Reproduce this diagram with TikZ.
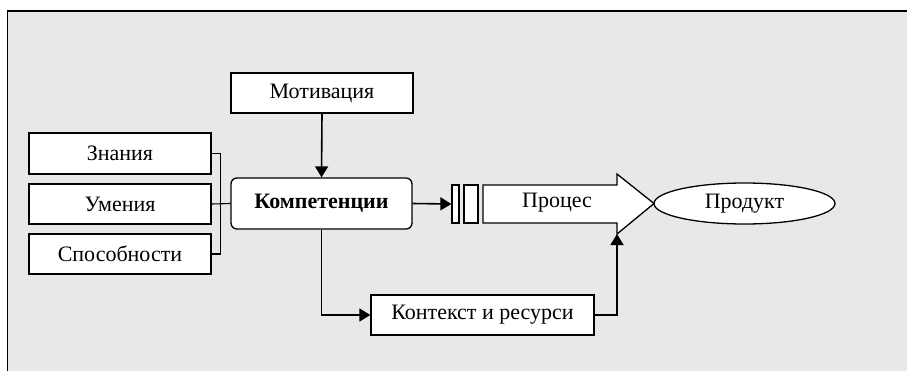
\documentclass[tikz,border=0pt]{standalone}
\usepackage{fontspec}
\setmainfont{Liberation Serif}
\usetikzlibrary{arrows.meta,shapes.geometric}
\definecolor{bgc}{HTML}{E8E8E8}
\begin{document}
\begin{tikzpicture}[x=1pt,y=-1pt,
  box/.style={draw=black,fill=white,line width=1.3pt,minimum width=182pt,minimum height=40pt,inner sep=0pt,font=\fontsize{22}{26}\selectfont},
  conn/.style={line width=1.6pt,-{Triangle[width=13pt,length=11pt]}},
  thin/.style={line width=1.1pt}]
\useasboundingbox (0,0) rectangle (907,370);
\fill[bgc] (7.5,11) rectangle (910,375);
\draw[line width=1.8pt] (7.5,375) -- (7.5,11) -- (910,11);
\node[box] (mot) at (322,93) {Мотивация};
\node[box,minimum height=41pt] (zn) at (120,153.5) {Знания};
\node[box] (um) at (120,204) {Умения};
\node[box] (sp) at (120,254) {Способности};
\node[box,rounded corners=6pt,minimum width=181pt,minimum height=51pt,font=\fontsize{22}{26}\selectfont\bfseries] (komp) at (321.5,203.5) {Компетенции};
\node[box,minimum width=7pt,minimum height=38pt] (r1) at (455.5,204) {};
\node[box,minimum width=14pt,minimum height=38pt] (r2) at (471,204) {};
\draw[line width=1.3pt,fill=white] (483,185) -- (617,185) -- (617,174) -- (654,203.5) -- (617,234) -- (617,223) -- (483,223) -- cycle;
\coordinate (headlow) at (617,234);
\node[font=\fontsize{22}{26}\selectfont] (proc) at (557,203) {Процес};
\node[box,ellipse,minimum width=181pt,minimum height=41pt] (prod) at (744.5,203.5) {Продукт};
\node[box,minimum width=223pt] (ctx) at (482.5,315) {Контекст и ресурси};
\draw[thin] (zn.east) -- ++(9,0) |- (sp.east);
\draw[thin] (um.east) -- (komp.west);
\draw[conn] (mot.south) -- (komp.north);
\draw[conn] (komp.east) -- (r1.west);
\draw[conn] (komp.south) |- (ctx.west);
\draw[conn] (ctx.east) -| (headlow);
\end{tikzpicture}
\end{document}
